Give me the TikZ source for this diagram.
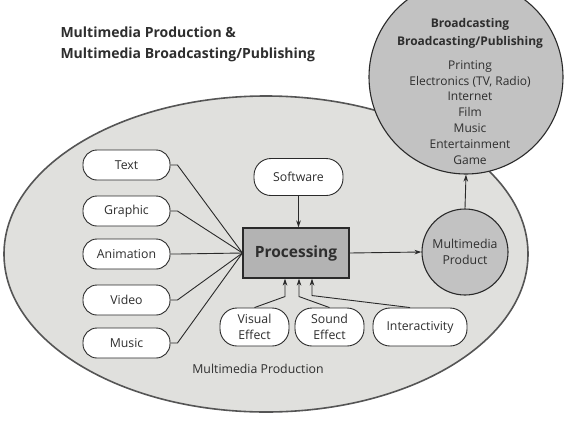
\documentclass[tikz,border=0pt]{standalone}
\usepackage{fontspec}
\setmainfont{Open Sans}
\usetikzlibrary{arrows.meta,calc}
\definecolor{txt}{HTML}{2E2E2E}
\definecolor{ellfill}{HTML}{E0E0DD}
\definecolor{ellline}{HTML}{555555}
\definecolor{circfill}{HTML}{C2C2C2}
\definecolor{procfill}{HTML}{B3B3B3}
\definecolor{edge}{HTML}{2A2A2A}
\begin{document}
\begin{tikzpicture}[x=1pt,y=-1pt,
  every node/.style={text=txt,font=\fontsize{12.3}{13.5}\selectfont},
  pill/.style={draw=edge,line width=0.9pt,fill=white,rounded corners=14pt,minimum width=87pt,minimum height=30pt,inner sep=0pt,align=center},
  twoline/.style={font=\fontsize{12.3}{16.5}\selectfont},
  conn/.style={draw=edge,line width=0.9pt},
  arr/.style={conn,-{Stealth[length=7pt,width=4.5pt]}},
]
\useasboundingbox (0,0) rectangle (566,424);
\fill[white] (0,0) rectangle (566,424);
% big ellipse
\draw[fill=ellfill,draw=ellline,line width=1.6pt] (266,254) ellipse [x radius=262, y radius=158];
% broadcasting circle
\node[circle,draw=edge,line width=1.1pt,fill=circfill,minimum size=194pt,inner sep=0pt] (bc) at (466,77) {};
\node[font=\fontsize{12}{13}\bfseries\selectfont] (bct1) at (470,24) {Broadcasting};
\node[font=\fontsize{12}{13}\bfseries\selectfont] (bct2) at (470,42) {Broadcasting/Publishing};
\node[align=center,font=\fontsize{12}{15.8}\selectfont,anchor=north] (bclist) at (470,57) {Printing\\Electronics (TV, Radio)\\Internet\\Film\\Music\\Entertainment\\Game};
% title
\node[anchor=west,align=left,font=\fontsize{14}{21}\bfseries\selectfont] (title) at (57,44) {Multimedia Production \&\\Multimedia Broadcasting/Publishing};
% product
\node[circle,draw=edge,line width=1.1pt,fill=circfill,minimum size=86pt,inner sep=0pt,align=center,twoline] (prod) at (465,252) {Multimedia\\Product};
% processing
\node[draw=edge,line width=1.1pt,fill=procfill,minimum width=106pt,minimum height=50pt,inner sep=0pt,font=\fontsize{15.5}{18}\bfseries\selectfont] (proc) at (296,253) {Processing};
% left pills
\node[pill] (text) at (126.5,165) {Text};
\node[pill] (graphic) at (126.5,211) {Graphic};
\node[pill] (anim) at (126.5,254) {Animation};
\node[pill] (video) at (126.5,300) {Video};
\node[pill] (music) at (126.5,343) {Music};
% top / bottom pills
\node[pill,minimum width=89pt,minimum height=37pt,rounded corners=17pt] (soft) at (298.5,177) {Software};
\node[pill,twoline,minimum width=69pt,minimum height=38pt,rounded corners=17pt] (visual) at (254.5,327) {Visual\\Effect};
\node[pill,twoline,minimum width=69pt,minimum height=38pt,rounded corners=17pt] (sound) at (329.5,327) {Sound\\Effect};
\node[pill,minimum width=94pt,minimum height=38pt,rounded corners=17pt] (inter) at (420,327) {Interactivity};
% label
\node (mplabel) at (258,369) {Multimedia Production};
% connectors from left
\foreach \n in {text,graphic,anim,video,music}{
  \draw[conn] (\n.east) -- ++(7,0) -- (proc.west);
}
\draw[arr] (soft.south) -- (proc.north -| soft.south);
\draw[arr] (visual.north) -- ($(proc.south)+(-11,18)$) -- ($(proc.south)+(-11,0)$);
\draw[arr] (sound.north) -- ($(proc.south)+(3,18)$) -- ($(proc.south)+(3,0)$);
\draw[arr] ($(inter.north)+(-10,0)$) -- ($(proc.south)+(16,17)$) -- ($(proc.south)+(16,0)$);
\draw[arr] (proc.east) -- (prod.west);
\draw[arr] (prod.north) -- (bc.south);
\end{tikzpicture}
\end{document}
